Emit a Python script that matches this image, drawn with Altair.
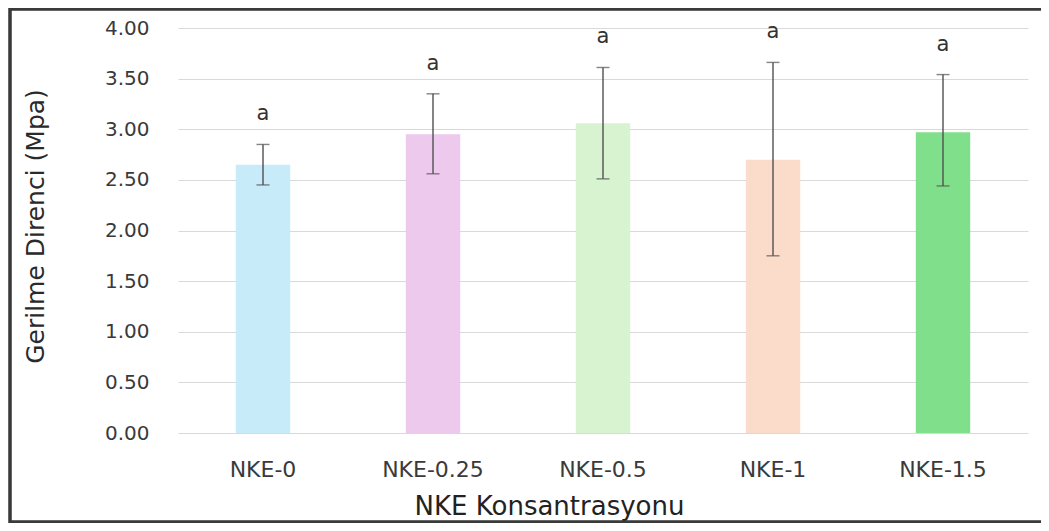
import altair as alt
import pandas as pd

categories = ["NKE-0", "NKE-0.25", "NKE-0.5", "NKE-1", "NKE-1.5"]
means = [2.65, 2.95, 3.06, 2.70, 2.97]
err_low = [2.45, 2.56, 2.51, 1.75, 2.44]
err_high = [2.85, 3.35, 3.61, 3.66, 3.54]
letters = ["a", "a", "a", "a", "a"]
colors = ["#c8ebf9", "#edc9ee", "#d7f3cf", "#fbdccb", "#80df8a"]
y_ticks = [0, 0.5, 1.0, 1.5, 2.0, 2.5, 3.0, 3.5, 4.0]

df = pd.DataFrame({
    "cat": categories, "mean": means, "lo": err_low, "hi": err_high,
    "letter": letters,
})

W, H = 850, 405
FONT = "DejaVu Sans"
TXT = "#3a3a3a"

x_enc = alt.X("cat:N", sort=categories,
              scale=alt.Scale(paddingInner=0.68, paddingOuter=0.34),
              axis=alt.Axis(title="NKE Konsantrasyonu", labelAngle=0,
                            labelFontSize=22, labelColor=TXT, labelFont=FONT,
                            labelPadding=26, domain=False, ticks=False,
                            grid=False, titleFontSize=26, titleFont=FONT,
                            titleFontWeight="normal", titleColor="#222222",
                            titleX=371, titleY=81, titleBaseline="alphabetic"))

y_scale = alt.Scale(domain=[0, 4], nice=False)

bars = alt.Chart(df).mark_bar().encode(
    x=x_enc,
    y=alt.Y("mean:Q", scale=y_scale,
            axis=alt.Axis(title="Gerilme Direnci  (Mpa)", values=y_ticks,
                          format=".2f", labelFontSize=20, labelColor=TXT,
                          labelFont=FONT, labelPadding=29, domain=False,
                          ticks=False, gridColor="#d9d9d9", gridWidth=1,
                          titleFontSize=25, titleFont=FONT,
                          titleFontWeight="normal", titleColor="#2a2a2a",
                          titleX=-143, titleY=198, titleAngle=270,
                          titleAlign="center", titleBaseline="middle")),
    color=alt.Color("cat:N", sort=categories,
                    scale=alt.Scale(domain=categories, range=colors),
                    legend=None),
)

err = alt.Chart(df).mark_rule(color="#505050", strokeWidth=1.4).encode(
    x=alt.X("cat:N", sort=categories),
    y=alt.Y("lo:Q", scale=y_scale),
    y2="hi:Q",
)
cap_lo = alt.Chart(df).mark_tick(color="#505050", thickness=1.4, size=13).encode(
    x=alt.X("cat:N", sort=categories), y=alt.Y("lo:Q", scale=y_scale))
cap_hi = alt.Chart(df).mark_tick(color="#505050", thickness=1.4, size=13).encode(
    x=alt.X("cat:N", sort=categories), y=alt.Y("hi:Q", scale=y_scale))

labels = alt.Chart(df).mark_text(fontSize=21, font=FONT, color="#333333",
                                 dy=-30, baseline="middle").encode(
    x=alt.X("cat:N", sort=categories), y=alt.Y("hi:Q", scale=y_scale),
    text="letter:N")

frame_left = alt.Chart(df).mark_rule(color="#3a3a3a", strokeWidth=2.5, clip=False).encode(
    x=alt.value(-168), y=alt.value(-20), y2=alt.value(H + 90))
frame_top = alt.Chart(df).mark_rule(color="#3a3a3a", strokeWidth=2.5, clip=False).encode(
    x=alt.value(-168), x2=alt.value(W + 20), y=alt.value(-19))
frame_bottom = alt.Chart(df).mark_rule(color="#3a3a3a", strokeWidth=2.5, clip=False).encode(
    x=alt.value(-168), x2=alt.value(W + 20), y=alt.value(H + 89))

chart = alt.layer(bars, err, cap_lo, cap_hi, labels,
                  frame_left, frame_top, frame_bottom).properties(
    width=W, height=H,
    autosize=alt.AutoSizeParams(type="none"),
    padding={"left": 170, "top": 20, "right": 13, "bottom": 90},
    background="white",
).configure_view(stroke=None)

chart.save("out.html", embed_options={"renderer": "svg", "actions": False})
